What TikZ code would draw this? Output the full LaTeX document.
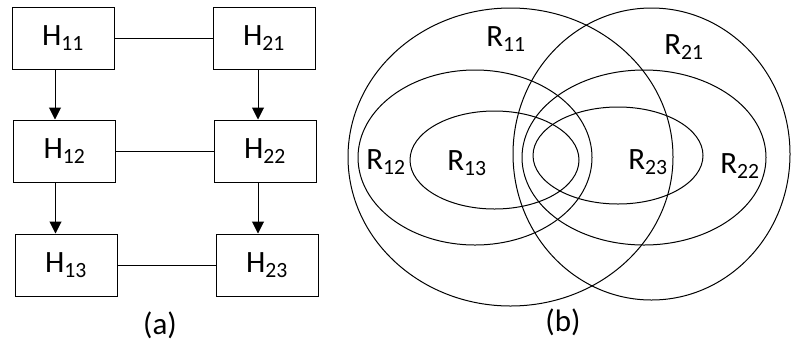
\documentclass[tikz,border=0pt]{standalone}
\usepackage{fontspec}
\setmainfont{Carlito}
\usetikzlibrary{arrows.meta}

\begin{document}
\begin{tikzpicture}[x=1pt, y=-1pt,
  hbox/.style={draw, line width=1pt, minimum width=102pt, minimum height=62pt,
               inner sep=0pt, font=\fontsize{31}{34}\selectfont},
  lbl/.style={inner sep=0pt, font=\fontsize{31}{34}\selectfont},
  link/.style={line width=1pt},
  flow/.style={line width=1pt, -{Triangle[length=12pt,width=12pt]}},
  ring/.style={line width=1pt},
]
  \useasboundingbox (0,0) rectangle (791,341);

  % (a) hierarchy
  \node[hbox] (h11) at (63,38)    {H\textsubscript{11}};
  \node[hbox] (h21) at (264,38)   {H\textsubscript{21}};
  \node[hbox] (h12) at (64.5,151) {H\textsubscript{12}};
  \node[hbox] (h22) at (265,151)  {H\textsubscript{22}};
  \node[hbox] (h13) at (66,265)   {H\textsubscript{13}};
  \node[hbox] (h23) at (267,265)  {H\textsubscript{23}};
  \node[lbl] (capa) at (160,325) {(a)};

  \draw[link] (h11) -- (h21);
  \draw[link] (h12) -- (h22);
  \draw[link] (h13) -- (h23);

  \draw[flow] ([xshift=-8pt]h11.south) -- ([xshift=-8pt]h11.south |- h12.north);
  \draw[flow] ([xshift=-6pt]h21.south) -- ([xshift=-6pt]h21.south |- h22.north);
  \draw[flow] ([xshift=-9pt]h12.south) -- ([xshift=-9pt]h12.south |- h13.north);
  \draw[flow] ([xshift=-7pt]h22.south) -- ([xshift=-7pt]h22.south |- h23.north);

  % (b) regions
  \draw[ring] (510.5,157) ellipse [x radius=162.5, y radius=149];
  \draw[ring] (651.5,154) ellipse [x radius=138.5, y radius=146];
  \draw[ring] (475,157.5) ellipse [x radius=117, y radius=87.5];
  \draw[ring] (644,157.5) ellipse [x radius=122, y radius=87.5];
  \draw[ring] (494.5,160) ellipse [x radius=84.5, y radius=49];
  \draw[ring] (618,155.5) ellipse [x radius=85, y radius=48.5];

  \node[lbl] (r11) at (506,39)  {R\textsubscript{11}};
  \node[lbl] (r21) at (684,47)  {R\textsubscript{21}};
  \node[lbl] (r12) at (386,162) {R\textsubscript{12}};
  \node[lbl] (r13) at (467,163) {R\textsubscript{13}};
  \node[lbl] (r23) at (648,162) {R\textsubscript{23}};
  \node[lbl] (r22) at (740,166) {R\textsubscript{22}};
  \node[lbl] (capb) at (563,322) {(b)};
\end{tikzpicture}
\end{document}
